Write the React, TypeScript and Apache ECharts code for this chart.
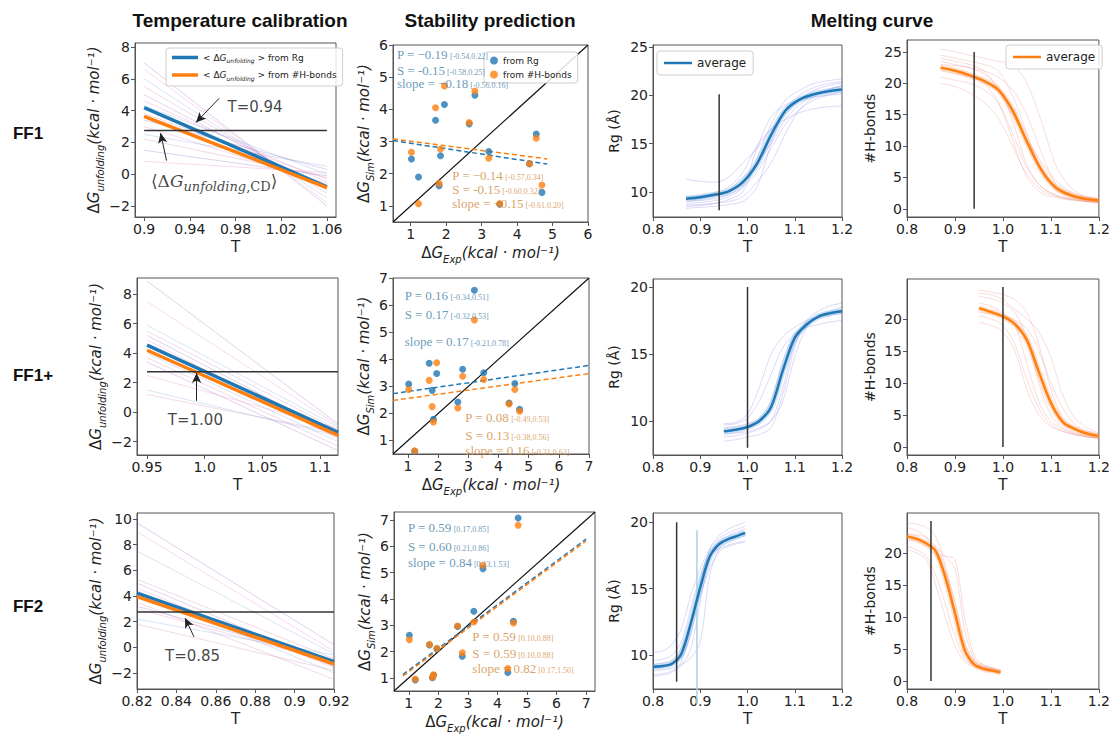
import React, { useEffect, useRef } from 'react';
import * as echarts from 'echarts';

// ---------------- DATA ----------------
// Column 1: temperature calibration (linear ΔG_unfolding(T) fits)
const CAL_T_FF1 = [0.9, 1.06];
const CAL_T_FF1P = [0.95, 1.1156];
const CAL_T_FF2 = [0.82, 0.92];
const CAL_AVG_RG_FF1 = [4.18, -0.8];
const CAL_AVG_HB_FF1 = [3.63, -0.85];
const CAL_AVG_RG_FF1P = [4.55, -1.37];
const CAL_AVG_HB_FF1P = [4.2, -1.57];
const CAL_AVG_RG_FF2 = [4.23, -1.12];
const CAL_AVG_HB_FF2 = [3.95, -1.3];
const CAL_IND_START_FF1 = [7.0, 6.6, 6.0, 5.5, 5.0, 4.6, 4.3, 3.8, 3.4, 3.0, 2.5, 2.2, 1.5, 0.8];
const CAL_IND_END_FF1 = [-2.0, -1.8, -1.5, -1.2, -1.0, -0.5, 0.0, -0.3, 0.3, -0.6, 0.5, -0.2, -0.1, 0.1];
const CAL_IND_START_FF1P = [8.9, 7.5, 5.9, 5.5, 5.2, 4.9, 4.0, 3.7, 3.4, 2.5, 1.5, 1.2];
const CAL_IND_END_FF1P = [-0.8, -0.9, -1.0, -1.2, -1.5, -1.8, -2.0, -2.3, -2.6, -1.1, -1.6, -1.4];
const CAL_IND_START_FF2 = [9.7, 9.0, 7.5, 5.3, 5.0, 4.6, 4.4, 3.5, 3.2, 3.0, 2.2, 1.8];
const CAL_IND_END_FF2 = [0.2, -0.3, -0.5, -0.9, -1.5, -1.6, -2.0, -2.5, -1.0, -1.2, -0.6, -1.8];
const DG_CD = 2.75;

// Column 2: stability prediction
const DG_EXP = [1.02, 1.22, 1.7, 1.8, 1.84, 1.95, 2.65, 2.81, 3.2, 3.51, 4.35, 4.54, 4.7];
const SIM_RG_FF1 = [2.46, 1.9, 3.66, 1.63, 2.56, 4.15, 3.55, 4.44, 2.69, 1.05, 2.31, 3.23, 1.42];
const SIM_HB_FF1 = [2.67, 1.07, 4.05, 1.7, 2.77, 4.73, 3.59, 4.57, 2.48, 1.07, 2.31, 3.1, 1.65];
const SIM_RG_FF1P = [3.08, 0.6, 3.85, 2.85, 1.78, 3.47, 2.42, 3.63, 6.55, 3.5, 2.38, 3.1, 2.15];
const SIM_HB_FF1P = [2.88, 0.62, 3.22, 2.25, 1.68, 3.87, 2.2, 3.37, 5.45, 3.25, 2.35, 2.88, 2.08];
const SIM_RG_FF2 = [2.62, 0.92, 2.25, 1.0, 1.1, 2.1, 2.95, 1.82, 3.53, 5.15, 1.2, 3.15, 7.07];
const SIM_HB_FF2 = [2.45, 0.95, 2.27, 1.02, 1.12, 2.12, 2.97, 1.95, 3.12, 5.28, 1.35, 3.08, 6.8];
const FIT_RG_FF1 = [[0.5, 3.03], [4.85, 2.3]];
const FIT_HB_FF1 = [[0.5, 3.08], [4.85, 2.46]];
const FIT_RG_FF1P = [[0.5, 2.73], [7, 3.77]];
const FIT_HB_FF1P = [[0.5, 2.48], [7, 3.47]];
const FIT_RG_FF2 = [[0.8, 1.12], [7, 6.27]];
const FIT_HB_FF2 = [[0.8, 1.07], [7, 6.2]];
const STATS_RG_FF1 = [['P = −0.19', '[-0.54,0.22]'], ['S = -0.15', '[-0.58,0.25]'], ['slope = −0.18', '[-0.56,0.16]']];
const STATS_HB_FF1 = [['P = −0.14', '[-0.57,0.34]'], ['S = -0.15', '[-0.60,0.32]'], ['slope = −0.15', '[-0.61,0.20]']];
const STATS_RG_FF1P = [['P = 0.16', '[-0.34,0.51]'], ['S = 0.17', '[-0.32,0.53]'], ['slope = 0.17', '[-0.21,0.78]']];
const STATS_HB_FF1P = [['P = 0.08', '[-0.49,0.53]'], ['S = 0.13', '[-0.38,0.56]'], ['slope = 0.16', '[-0.21,0.62]']];
const STATS_RG_FF2 = [['P = 0.59', '[0.17,0.85]'], ['S = 0.60', '[0.21,0.86]'], ['slope = 0.84', '[0.13,1.53]']];
const STATS_HB_FF2 = [['P = 0.59', '[0.10,0.88]'], ['S = 0.59', '[0.10,0.88]'], ['slope = 0.82', '[0.17,1.50]']];

// Columns 3-4: melting curves
const MELT_T_FF1 = [0.87, 0.9, 0.93, 0.96, 0.99, 1.02, 1.05, 1.08, 1.11, 1.14, 1.17, 1.2];
const MELT_T_FF1P = [0.95, 0.975, 1.0, 1.025, 1.05, 1.075, 1.1, 1.125, 1.15, 1.175, 1.2];
const MELT_T_FF2 = [0.8, 0.82, 0.84, 0.86, 0.88, 0.9, 0.92, 0.94, 0.96, 0.98, 0.995];
const RG_AVG_FF1 = [9.3, 9.45, 9.7, 10.05, 11.0, 12.9, 15.9, 18.4, 19.55, 20.1, 20.4, 20.6];
const RG_IND_FF1 = [
  [11.3, 11.1, 11.0, 11.5, 13.0, 14.5, 16.5, 18.0, 19.5, 20.5, 21.0, 21.3],
  [8.5, 8.6, 8.8, 9.2, 10.0, 13.5, 17.0, 19.5, 20.5, 21.2, 21.5, 21.7],
  [9.0, 9.1, 9.3, 9.7, 10.5, 12.0, 14.5, 17.0, 18.5, 19.5, 20.0, 20.3],
  [8.3, 8.4, 8.5, 8.7, 9.0, 10.5, 15.0, 18.5, 20.0, 20.8, 21.2, 21.4],
  [9.5, 9.6, 9.9, 10.5, 12.0, 14.8, 16.5, 17.5, 18.2, 18.6, 18.8, 18.9],
  [8.8, 8.9, 9.1, 9.5, 10.5, 14.5, 17.8, 19.0, 19.5, 19.8, 20.0, 20.1],
  [9.2, 9.3, 9.6, 10.2, 11.5, 13.0, 15.0, 17.5, 19.0, 20.0, 20.6, 21.0],
  [8.6, 8.7, 8.8, 9.0, 9.5, 11.0, 13.0, 16.0, 18.5, 19.8, 20.5, 21.0],
];
const HB_AVG_FF1 = [22.5, 22.0, 21.3, 20.4, 19.0, 15.7, 10.7, 6.2, 3.4, 2.2, 1.6, 1.35];
const HB_IND_FF1 = [
  [25.5, 25.0, 24.5, 24.0, 23.5, 23.0, 20.0, 14.0, 7.0, 3.5, 2.0, 1.5],
  [24.5, 24.0, 23.5, 23.0, 22.0, 18.0, 12.0, 6.0, 3.0, 2.0, 1.5, 1.2],
  [23.5, 23.0, 22.5, 21.5, 19.5, 14.0, 7.0, 3.5, 2.2, 1.6, 1.3, 1.1],
  [21.0, 20.5, 20.0, 19.0, 17.0, 12.0, 6.5, 3.5, 2.2, 1.6, 1.3, 1.1],
  [20.0, 19.5, 18.5, 17.0, 14.5, 10.0, 5.5, 3.0, 2.0, 1.5, 1.2, 1.0],
  [23.0, 22.8, 22.5, 22.0, 21.0, 19.0, 15.0, 9.0, 4.0, 2.5, 1.8, 1.4],
  [24.0, 23.5, 23.0, 22.0, 19.0, 15.0, 11.0, 7.5, 4.5, 2.8, 2.0, 1.5],
  [22.0, 21.5, 21.0, 20.0, 17.0, 11.0, 5.0, 2.5, 1.8, 1.4, 1.2, 1.0],
];
const RG_AVG_FF1P = [9.23, 9.35, 9.55, 10.0, 11.05, 13.8, 16.2, 17.2, 17.8, 18.05, 18.2];
const RG_IND_FF1P = [
  [9.8, 9.9, 10.5, 12.5, 15.0, 16.3, 17.0, 17.5, 17.8, 18.0, 18.2],
  [8.5, 8.6, 8.8, 9.0, 9.5, 12.0, 15.5, 17.5, 18.2, 18.6, 18.8],
  [9.5, 9.6, 9.8, 10.2, 11.5, 14.5, 16.5, 17.3, 17.7, 17.9, 18.0],
  [9.0, 9.1, 9.2, 9.5, 10.0, 11.5, 14.8, 17.0, 17.8, 18.2, 18.5],
  [9.7, 9.8, 10.2, 11.5, 13.5, 15.5, 16.5, 17.0, 17.2, 17.4, 17.5],
  [8.8, 8.9, 9.1, 9.4, 10.0, 12.5, 15.8, 17.2, 17.8, 18.1, 18.3],
];
const HB_AVG_FF1P = [21.7, 21.1, 20.4, 19.2, 16.7, 11.7, 6.9, 3.9, 2.8, 2.1, 1.7];
const HB_IND_FF1P = [
  [24.5, 24.2, 23.8, 23.0, 21.0, 16.0, 9.0, 4.5, 3.0, 2.2, 1.8],
  [23.5, 23.2, 22.5, 21.0, 17.0, 10.0, 5.0, 3.0, 2.2, 1.8, 1.5],
  [22.5, 22.0, 21.0, 19.0, 13.0, 7.0, 4.0, 2.8, 2.0, 1.6, 1.4],
  [20.5, 20.0, 19.0, 16.0, 10.5, 6.0, 3.5, 2.5, 2.0, 1.6, 1.4],
  [19.5, 19.0, 18.0, 15.0, 9.0, 5.0, 3.2, 2.4, 1.9, 1.6, 1.4],
  [21.0, 20.8, 20.5, 19.8, 18.5, 15.0, 10.0, 6.0, 3.5, 2.5, 2.0],
  [24.0, 23.8, 23.0, 21.5, 20.0, 18.0, 14.0, 8.0, 4.5, 3.0, 2.2],
];
const RG_AVG_FF2 = [9.13, 9.18, 9.35, 10.1, 12.4, 15.1, 17.4, 18.35, 18.75, 19.0, 19.2];
const RG_IND_FF2 = [
  [10.2, 10.3, 10.8, 12.0, 14.5, 16.5, 18.0, 18.8, 19.2, 19.5, 19.7],
  [8.5, 8.6, 8.8, 9.2, 10.5, 14.0, 17.5, 18.6, 19.0, 19.3, 19.5],
  [9.0, 9.1, 9.3, 9.8, 11.5, 15.0, 17.8, 18.5, 18.8, 19.0, 19.2],
  [8.8, 8.9, 9.0, 9.3, 9.8, 11.0, 16.0, 18.0, 18.5, 18.8, 19.0],
  [9.6, 9.7, 10.0, 11.0, 13.5, 16.0, 17.5, 18.0, 18.3, 18.5, 18.6],
  [8.4, 8.5, 8.7, 9.5, 12.0, 15.5, 18.0, 19.0, 19.5, 19.8, 20.0],
  [9.3, 9.4, 9.6, 10.5, 12.5, 14.5, 16.5, 17.8, 18.2, 18.4, 18.5],
];
const HB_AVG_FF2 = [22.6, 22.2, 21.5, 20.3, 16.2, 10.6, 4.9, 2.6, 1.9, 1.6, 1.35];
const HB_IND_FF2 = [
  [24.7, 24.5, 24.0, 22.5, 18.0, 11.0, 5.0, 3.0, 2.2, 1.8, 1.5],
  [23.0, 22.8, 22.5, 21.0, 19.5, 17.5, 8.0, 3.5, 2.5, 2.0, 1.7],
  [21.0, 20.5, 19.5, 16.5, 12.0, 7.0, 3.5, 2.4, 1.8, 1.5, 1.3],
  [20.5, 20.0, 19.0, 15.0, 10.0, 5.5, 3.0, 2.2, 1.7, 1.4, 1.2],
  [22.0, 21.8, 21.0, 19.5, 17.0, 12.5, 6.0, 3.2, 2.2, 1.8, 1.5],
  [24.0, 23.5, 22.5, 20.0, 19.5, 19.0, 10.0, 4.0, 2.5, 2.0, 1.6],
];
const T_MELT = [0.94, 1.0, 0.85];
const T_FF2_ALT = 0.893;

// Tick values / labels
const X_CAL_FF1 = [0.9, 0.94, 0.98, 1.02, 1.06];
const X_CAL_FF1_LBL = ['0.9', '0.94', '0.98', '1.02', '1.06'];
const X_CAL_FF1P = [0.95, 1.0, 1.05, 1.1];
const X_CAL_FF1P_LBL = ['0.95', '1.0', '1.05', '1.1'];
const X_CAL_FF2 = [0.82, 0.84, 0.86, 0.88, 0.9, 0.92];
const X_CAL_FF2_LBL = ['0.82', '0.84', '0.86', '0.88', '0.9', '0.92'];
const X_MELT = [0.8, 0.9, 1.0, 1.1, 1.2];
const X_MELT_LBL = ['0.8', '0.9', '1.0', '1.1', '1.2'];

// ---------------- STYLE ----------------
const BLUE = '#1f77b4';
const ORANGE = '#ff7f0e';
const TXT_BLUE = '#3f7ea6';
const TXT_ORANGE = '#d08a3c';
const FRAME = '#555';
const FONT = 'DejaVu Sans';
const FAINT_CAL = ['rgba(148,103,189,0.3)', 'rgba(227,119,194,0.28)', 'rgba(100,150,220,0.26)', 'rgba(200,120,160,0.28)'];
const FAINT_RG = 'rgba(110,100,220,0.24)';
const FAINT_HB = 'rgba(230,110,110,0.24)';

const fmtNum = (v: number) => (v < 0 ? '−' + Math.abs(v) : String(v));

function mkAxis(gi: number, min: number, max: number, ticks: number[], labels: string[] | null, extra: any = {}) {
  return {
    type: 'value', gridIndex: gi, min, max,
    axisLine: { show: true, onZero: false, lineStyle: { color: FRAME, width: 1 } },
    axisTick: { show: true, length: 4, customValues: ticks, lineStyle: { color: FRAME } },
    axisLabel: {
      show: true, customValues: ticks, margin: 5, color: '#222', fontSize: 14, fontFamily: FONT,
      formatter: (v: number) => {
        const i = ticks.findIndex((t) => Math.abs(t - v) < 1e-6);
        if (i < 0) return '';
        return labels ? labels[i] : fmtNum(ticks[i]);
      },
    },
    splitLine: { show: false },
    ...extra,
  };
}

const richName = {
  d: { fontSize: 15, fontFamily: FONT, color: '#222', lineHeight: 22 },
  a: { fontSize: 15, fontFamily: FONT, fontStyle: 'italic', color: '#222', lineHeight: 22 },
  s: { fontSize: 10, fontFamily: FONT, fontStyle: 'italic', color: '#222', verticalAlign: 'bottom', lineHeight: 12 },
};

function buildOption() {
  const grids = [
    [135, 43, 201, 174], [393, 45, 195, 177], [653, 45, 189, 172], [907, 40, 195, 177],
    [137, 278, 201, 177], [393, 278, 196, 176], [653, 279, 189, 176], [907, 279, 195, 176],
    [137, 513, 197, 176], [394, 512, 201, 180], [653, 513, 189, 176], [907, 513, 195, 176],
  ].map(([l, t, w, h]) => ({ left: l, top: t, width: w, height: h, show: true, borderColor: FRAME, borderWidth: 1, backgroundColor: 'transparent' }));

  const xAxes: any[] = [];
  const yAxes: any[] = [];
  const series: any[] = [];

  const nameT = { name: 'T', nameLocation: 'middle', nameGap: 22, nameTextStyle: { fontSize: 15, fontFamily: FONT, color: '#222' } };
  const nameDGunf = { name: '{d|Δ}{a|G}{s|unfolding}{a|(kcal · mol⁻¹)}', nameLocation: 'middle', nameGap: 20, nameTextStyle: { rich: richName } };
  const nameDGsim = { name: '{d|Δ}{a|G}{s|Sim}{a|(kcal · mol⁻¹)}', nameLocation: 'middle', nameGap: 18, nameTextStyle: { rich: richName } };
  const nameDGexp = { name: '{d|Δ}{a|G}{s|Exp}{a|(kcal · mol⁻¹)}', nameLocation: 'middle', nameGap: 20, nameTextStyle: { rich: richName } };
  const nameRg = { name: 'Rg (Å)', nameLocation: 'middle', nameGap: 32, nameTextStyle: { fontSize: 14, fontFamily: FONT, color: '#222' } };
  const nameHb = { name: '#H-bonds', nameLocation: 'middle', nameGap: 30, nameTextStyle: { fontSize: 14, fontFamily: FONT, color: '#222' } };

  const line = (gi: number, data: number[][], color: string, width: number, extra: any = {}) => {
    series.push({ type: 'line', xAxisIndex: gi, yAxisIndex: gi, data, symbol: 'none', showSymbol: false, silent: true, lineStyle: { color, width }, itemStyle: { color }, z: 2, ...extra });
  };
  const textAt = (gi: number, x: number, y: number, formatter: string, rich: any, position: any = 'right') => {
    series.push({
      type: 'scatter', xAxisIndex: gi, yAxisIndex: gi, data: [[x, y]], symbolSize: 0, silent: true, z: 6,
      label: { show: true, position, distance: 0, formatter, rich },
    });
  };

  // ---------- column 1 ----------
  const calPanel = (gi: number, T: number[], xr: [number, number], xt: number[], xl: string[], yr: [number, number], yt: number[],
    starts: number[], ends: number[], avgRg: number[], avgHb: number[], hEnd: number,
    arrows: number[][], tLabel: string, tPos: number[], nRg?: string, nHb?: string) => {
    xAxes.push(mkAxis(gi, xr[0], xr[1], xt, xl, nameT));
    yAxes.push(mkAxis(gi, yr[0], yr[1], yt, null, nameDGunf));
    starts.forEach((s, i) => line(gi, [[T[0], s], [T[1], ends[i]]], FAINT_CAL[i % FAINT_CAL.length], 1, { z: 1 }));
    line(gi, [[T[0], avgRg[0]], [T[1], avgRg[1]]], BLUE, 3.5, { name: nRg, z: 3 });
    line(gi, [[T[0], avgHb[0]], [T[1], avgHb[1]]], ORANGE, 3.5, { name: nHb, z: 3 });
    line(gi, [[T[0], DG_CD], [hEnd, DG_CD]], '#333', 1.5, {
      z: 4,
      markLine: {
        silent: true, symbol: ['none', 'arrow'], symbolSize: [7, 10], label: { show: false },
        lineStyle: { color: '#222', width: 1, type: 'solid' },
        data: arrows.map((a) => [{ coord: [a[0], a[1]] }, { coord: [a[2], a[3]] }]),
      },
    });
    textAt(gi, tPos[0], tPos[1], `{t|${tLabel}}`, { t: { fontSize: 15, fontFamily: FONT, color: '#111' } });
  };

  calPanel(0, CAL_T_FF1, [0.892, 1.068], X_CAL_FF1, X_CAL_FF1_LBL, [-2.7, 8.25], [-2, 0, 2, 4, 6, 8],
    CAL_IND_START_FF1, CAL_IND_END_FF1, CAL_AVG_RG_FF1, CAL_AVG_HB_FF1, 1.06,
    [[0.9657, 4.77, 0.9454, 3.25], [0.9196, 0.85, 0.9144, 2.58]], 'T=0.94', [0.973, 4.2], 'calRg', 'calHb');
  textAt(0, 0.906, -0.45, '{a|⟨Δ}{i|G}{s|unfolding}{b|,CD}{a|⟩}', {
    a: { fontSize: 17, fontFamily: 'DejaVu Serif', color: '#111', lineHeight: 24 },
    i: { fontSize: 17, fontFamily: 'DejaVu Serif', fontStyle: 'italic', color: '#111', lineHeight: 24 },
    s: { fontSize: 13, fontFamily: 'DejaVu Serif', fontStyle: 'italic', color: '#111', verticalAlign: 'bottom', lineHeight: 14 },
    b: { fontSize: 13, fontFamily: 'DejaVu Serif', color: '#111', verticalAlign: 'bottom', lineHeight: 14 },
  });

  // ---------- scatter panels ----------
  const statRich = (color: string) => ({
    m: { fontSize: 13, fontFamily: 'Liberation Serif', color, lineHeight: 12 },
    s: { fontSize: 8, fontFamily: 'Liberation Serif', color, verticalAlign: 'bottom', lineHeight: 8 },
  });
  const scPanel = (gi: number, xr: [number, number], ticks: number[], rg: number[], hb: number[], fitRg: number[][], fitHb: number[][],
    statsRg: string[][], statsHb: string[][], posRg: number[][], posHb: number[][], names: (string | undefined)[]) => {
    xAxes.push(mkAxis(gi, xr[0], xr[1], ticks, null, nameDGexp));
    yAxes.push(mkAxis(gi, xr[0], xr[1], ticks, null, nameDGsim));
    line(gi, [[xr[0], xr[0]], [xr[1], xr[1]]], '#111', 1.2, { z: 2 });
    line(gi, fitRg, BLUE, 1.5, { lineStyle: { color: BLUE, width: 1.5, type: [5, 3] }, z: 3 });
    line(gi, fitHb, ORANGE, 1.5, { lineStyle: { color: ORANGE, width: 1.5, type: [5, 3] }, z: 3 });
    series.push({ type: 'scatter', name: names[0], xAxisIndex: gi, yAxisIndex: gi, data: DG_EXP.map((x, i) => [x, rg[i]]), symbolSize: 7, itemStyle: { color: BLUE }, silent: true, z: 4 });
    series.push({ type: 'scatter', name: names[1], xAxisIndex: gi, yAxisIndex: gi, data: DG_EXP.map((x, i) => [x, hb[i]]), symbolSize: 7, itemStyle: { color: ORANGE }, silent: true, z: 5 });
    statsRg.forEach((s, i) => textAt(gi, posRg[i][0], posRg[i][1], `{m|${s[0]}}{s| ${s[1]}}`, statRich(TXT_BLUE)));
    statsHb.forEach((s, i) => textAt(gi, posHb[i][0], posHb[i][1], `{m|${s[0]}}{s| ${s[1]}}`, statRich(TXT_ORANGE)));
  };

  // ---------- melting panels ----------
  const meltPanel = (gi: number, T: number[], yr: [number, number], yt: number[], ind: number[][], avg: number[], color: string,
    faint: string, band: string, tm: number, vr: [number, number], isRg: boolean, name?: string) => {
    xAxes.push(mkAxis(gi, 0.8, 1.2, X_MELT, X_MELT_LBL, nameT));
    yAxes.push(mkAxis(gi, yr[0], yr[1], yt, null, isRg ? nameRg : nameHb));
    ind.forEach((c) => line(gi, T.map((t, i) => [t, c[i]]), faint, 1, { smooth: 0.3, z: 1 }));
    line(gi, T.map((t, i) => [t, avg[i]]), band, 6, { smooth: 0.3, z: 2 });
    line(gi, T.map((t, i) => [t, avg[i]]), color, 2.5, { smooth: 0.3, z: 3, name });
    line(gi, [[tm, vr[0]], [tm, vr[1]]], '#333', 1.5, { z: 4 });
  };

  // Row 1
  scPanel(1, [0.5, 6], [1, 2, 3, 4, 5, 6], SIM_RG_FF1, SIM_HB_FF1, FIT_RG_FF1, FIT_HB_FF1, STATS_RG_FF1, STATS_HB_FF1,
    [[0.61, 5.7], [0.61, 5.22], [0.61, 4.8]], [[2.17, 1.95], [2.17, 1.5], [2.17, 1.08]], ['scRg', 'scHb']);
  meltPanel(2, MELT_T_FF1, [7.4, 25.2], [10, 15, 20, 25], RG_IND_FF1, RG_AVG_FF1, BLUE, FAINT_RG, 'rgba(90,160,230,0.3)', T_MELT[0], [8.1, 20.1], true, 'meltRg');
  meltPanel(3, MELT_T_FF1, [-1.3, 26.9], [0, 5, 10, 15, 20, 25], HB_IND_FF1, HB_AVG_FF1, ORANGE, FAINT_HB, 'rgba(255,150,90,0.3)', T_MELT[0], [0, 25], false, 'meltHb');

  // Row 2
  calPanel(4, CAL_T_FF1P, [0.9413, 1.1156], X_CAL_FF1P, X_CAL_FF1P_LBL, [-2.9, 9.1], [-2, 0, 2, 4, 6, 8],
    CAL_IND_START_FF1P, CAL_IND_END_FF1P, CAL_AVG_RG_FF1P, CAL_AVG_HB_FF1P, 1.1156,
    [[0.993, 0.77, 0.993, 2.66]], 'T=1.00', [0.968, -0.51]);
  scPanel(5, [0.5, 7], [1, 2, 3, 4, 5, 6, 7], SIM_RG_FF1P, SIM_HB_FF1P, FIT_RG_FF1P, FIT_HB_FF1P, STATS_RG_FF1P, STATS_HB_FF1P,
    [[0.89, 6.35], [0.89, 5.64], [0.89, 4.65]], [[2.9, 1.84], [2.9, 1.2], [2.9, 0.62]], [undefined, undefined]);
  meltPanel(6, MELT_T_FF1P, [7.46, 20.6], [10, 15, 20], RG_IND_FF1P, RG_AVG_FF1P, BLUE, FAINT_RG, 'rgba(90,160,230,0.3)', T_MELT[1], [8.0, 20.0], true);
  meltPanel(7, MELT_T_FF1P, [-1.25, 26.25], [0, 5, 10, 15, 20], HB_IND_FF1P, HB_AVG_FF1P, ORANGE, FAINT_HB, 'rgba(255,150,90,0.3)', T_MELT[1], [0, 25], false);

  // Row 3
  calPanel(8, CAL_T_FF2, [0.82, 0.92], X_CAL_FF2, X_CAL_FF2_LBL, [-3.25, 10.47], [-2, 0, 2, 4, 6, 8, 10],
    CAL_IND_START_FF2, CAL_IND_END_FF2, CAL_AVG_RG_FF2, CAL_AVG_HB_FF2, 0.92,
    [[0.8489, 0.83, 0.8444, 2.28]], 'T=0.85', [0.8342, -0.68]);
  scPanel(9, [0.5, 7.3], [1, 2, 3, 4, 5, 6, 7], SIM_RG_FF2, SIM_HB_FF2, FIT_RG_FF2, FIT_HB_FF2, STATS_RG_FF2, STATS_HB_FF2,
    [[0.97, 6.7], [0.97, 6.0], [0.97, 5.39]], [[3.15, 2.58], [3.15, 1.94], [3.15, 1.34]], [undefined, undefined]);
  meltPanel(10, MELT_T_FF2, [7.45, 20.7], [10, 15, 20], RG_IND_FF2, RG_AVG_FF2, BLUE, FAINT_RG, 'rgba(90,160,230,0.3)', T_MELT[2], [8.0, 20.0], true);
  line(10, [[T_FF2_ALT, 6.3], [T_FF2_ALT, 19.4]], '#a9d2e3', 1.5, { clip: false, z: 2 });
  meltPanel(11, MELT_T_FF2, [-1.25, 26.25], [0, 5, 10, 15, 20], HB_IND_FF2, HB_AVG_FF2, ORANGE, FAINT_HB, 'rgba(255,150,90,0.3)', T_MELT[2], [0, 25], false);

  const legendBase = {
    orient: 'vertical', selectedMode: false, borderColor: '#cfcfcf', borderWidth: 1, borderRadius: 3,
    backgroundColor: 'rgba(255,255,255,0.85)', itemGap: 4,
  };
  const legend = [
    {
      ...legendBase, left: 166, top: 48, padding: [5, 6], icon: 'rect', itemWidth: 26, itemHeight: 3.5, itemGap: 7, data: ['calRg', 'calHb'],
      formatter: (n: string) => (n === 'calRg' ? '{a|< Δ}{i|G}{s|unfolding}{a| > from Rg}' : '{a|< Δ}{i|G}{s|unfolding}{a| > from #H-bonds}'),
      textStyle: {
        rich: {
          a: { fontSize: 9, fontFamily: FONT, color: '#222', lineHeight: 12 },
          i: { fontSize: 9, fontFamily: FONT, fontStyle: 'italic', color: '#222', lineHeight: 12 },
          s: { fontSize: 6, fontFamily: FONT, fontStyle: 'italic', color: '#222', verticalAlign: 'bottom', lineHeight: 8 },
        },
      },
    },
    {
      ...legendBase, left: 484, top: 52, padding: [4, 6], itemWidth: 8, itemHeight: 8, itemGap: 5, icon: 'circle', data: ['scRg', 'scHb'],
      formatter: (n: string) => (n === 'scRg' ? 'from Rg' : 'from #H-bonds'),
      textStyle: { fontSize: 9, fontFamily: FONT, color: '#222' },
    },
    {
      ...legendBase, left: 657, top: 51, padding: [6, 7], icon: 'rect', itemWidth: 28, itemHeight: 2.5, data: ['meltRg'],
      formatter: () => 'average', textStyle: { fontSize: 12, fontFamily: FONT, color: '#222' },
    },
    {
      ...legendBase, left: 1006, top: 45, padding: [6, 7], icon: 'rect', itemWidth: 28, itemHeight: 2.5, data: ['meltHb'],
      formatter: () => 'average', textStyle: { fontSize: 12, fontFamily: FONT, color: '#222' },
    },
  ];

  const headFont = { fontSize: 19, fontWeight: 'bold', fontFamily: 'Liberation Sans', fill: '#111', align: 'center', verticalAlign: 'middle' };
  const rowFont = { ...headFont, fontSize: 17 };
  const graphic = [
    { type: 'text', x: 240, y: 20, style: { ...headFont, text: 'Temperature calibration' } },
    { type: 'text', x: 490, y: 20, style: { ...headFont, text: 'Stability prediction' } },
    { type: 'text', x: 872, y: 20, style: { ...headFont, text: 'Melting curve' } },
    { type: 'text', x: 28, y: 133, style: { ...rowFont, text: 'FF1' } },
    { type: 'text', x: 33, y: 375, style: { ...rowFont, text: 'FF1+' } },
    { type: 'text', x: 28, y: 606, style: { ...rowFont, text: 'FF2' } },
  ];

  return { animation: false, backgroundColor: '#fff', grid: grids, xAxis: xAxes, yAxis: yAxes, series, legend, graphic };
}

export default function App() {
  const ref = useRef<HTMLDivElement>(null);
  useEffect(() => {
    document.body.style.margin = '0';
    if (!ref.current) return;
    const chart = echarts.init(ref.current, undefined, { renderer: 'svg' });
    chart.setOption(buildOption() as any);
    return () => chart.dispose();
  }, []);
  return <div ref={ref} style={{ width: 1113, height: 734 }} />;
}
